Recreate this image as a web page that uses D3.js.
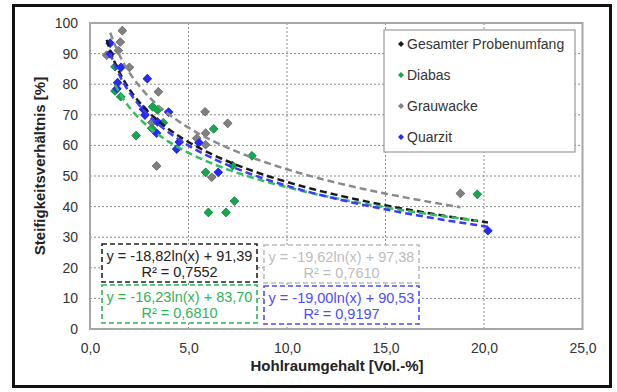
<!DOCTYPE html>
<html>
<head>
<meta charset="utf-8">
<script src="https://cdn.jsdelivr.net/npm/d3@7"></script>
<style>
  body { margin: 0; background: #fff; }
  svg text { font-family: "Liberation Sans", Arial, sans-serif; }
</style>
</head>
<body>
<div id="chart"></div>
<script>
// data: [Hohlraumgehalt, Steifigkeitsverhaeltnis]
const diabas = [[1.27,85.7],[1.27,77.8],[1.56,75.9],[2.34,63.2],[3.18,72.6],[3.43,71.6],[3.13,65.6],[3.72,67.4],
  [6.28,65.4],[8.22,56.6],[5.87,51.2],[6.01,38.1],[6.9,38.1],[7.33,41.8],[7.24,53.4],[19.66,44]]
const grauwacke = [[1.64,97.5],[1.54,93.8],[1.44,91],[0.85,89.5],[2.0,85.5],[3.47,77.5],[5.84,71],[6.99,67.2],
  [5.87,64],[5.42,62.3],[5.87,60.2],[3.38,53.3],[6.18,49.6],[3.15,67.5],[18.8,44.3]]
const quarzit = [[1.02,93.4],[1.02,89.9],[1.57,85.5],[1.40,80.5],[1.37,78.5],[2.91,81.8],[2.71,71.8],[2.79,69.9],
  [3.42,67.7],[3.38,64],[3.99,70.9],[4.53,61.1],[4.40,58.8],[5.53,60.9],[6.51,51.2],[20.2,32.1]]
const gesamt = diabas.concat(grauwacke, quarzit)

const seriesNames = ["Gesamter Probenumfang", "Diabas", "Grauwacke", "Quarzit"]
const seriesData = [gesamt, diabas, grauwacke, quarzit]
// log trend y = a ln(x) + b
const trendA = [-18.82, -16.23, -19.62, -19.00]
const trendB = [91.39, 83.70, 97.38, 90.53]
const trendR2 = ["0,7552", "0,6810", "0,7610", "0,9197"]

const xTicks = [0, 5, 10, 15, 20, 25]
const yTicks = [0, 10, 20, 30, 40, 50, 60, 70, 80, 90, 100]

const pointColor = ["#1a1a1a", "#12a84e", "#808080", "#2727ff"]
const lineColor  = ["#1a1a1a", "#2fbf5c", "#8a8a8a", "#3a3aff"]
const eqColor    = ["#222", "#2fb558", "#bdbdbd", "#4c4cff"]

var width = 617, height = 392
var plot = {left: 90, right: 582.5, top: 23, bottom: 329}

var svg = d3.select("#chart").append("svg")
    .attr("width", width)
    .attr("height", height)

// outer frame
svg.append("rect")
    .attr("x", 13.5).attr("y", 5.5)
    .attr("width", 597).attr("height", 381)
    .attr("fill", "#fff")
    .attr("stroke", "#111")
    .attr("stroke-width", 3)

var x = d3.scaleLinear().domain([0, 25]).range([plot.left, plot.right])
var y = d3.scaleLinear().domain([0, 100]).range([plot.bottom, plot.top])

// grid
svg.append("g")
  .selectAll("line").data(yTicks.slice(1, -1)).join("line")
    .attr("x1", plot.left).attr("x2", plot.right)
    .attr("y1", d => y(d)).attr("y2", d => y(d))
    .attr("stroke", "#8c8c8c").attr("stroke-width", 1).attr("stroke-dasharray", "2,2")
svg.append("g")
  .selectAll("line").data(xTicks.slice(1, -1)).join("line")
    .attr("y1", plot.top).attr("y2", plot.bottom)
    .attr("x1", d => x(d)).attr("x2", d => x(d))
    .attr("stroke", "#8c8c8c").attr("stroke-width", 1).attr("stroke-dasharray", "2,2")

// axes (labels only, frame drawn below)
var xAxis = svg.append("g")
  .attr("transform", "translate(0," + plot.bottom + ")")
  .call(d3.axisBottom(x).tickValues(xTicks).tickSize(0).tickPadding(14)
        .tickFormat(d => d3.format(".1f")(d).replace(".", ",")))
xAxis.select(".domain").remove()
xAxis.selectAll("text").attr("font-size", 14).attr("fill", "#333")
  .attr("font-family", "Liberation Sans, Arial, sans-serif")

var yAxis = svg.append("g")
  .attr("transform", "translate(" + plot.left + ",0)")
  .call(d3.axisLeft(y).tickValues(yTicks).tickSize(0).tickPadding(12))
yAxis.select(".domain").remove()
yAxis.selectAll("text").attr("font-size", 14).attr("fill", "#333")
  .attr("font-family", "Liberation Sans, Arial, sans-serif")

// plot border
svg.append("rect")
    .attr("x", plot.left).attr("y", plot.top)
    .attr("width", plot.right - plot.left).attr("height", plot.bottom - plot.top)
    .attr("fill", "none").attr("stroke", "#a6a6a6").attr("stroke-width", 2)

// axis titles
svg.append("text")
    .attr("x", 337).attr("y", 371)
    .attr("text-anchor", "middle")
    .attr("font-size", 15).attr("font-weight", "bold").attr("fill", "#222")
    .text("Hohlraumgehalt [Vol.-%]")
svg.append("text")
    .attr("transform", "translate(45," + 166 + ")rotate(-90)")
    .attr("text-anchor", "middle")
    .attr("font-size", 15).attr("font-weight", "bold").attr("fill", "#222")
    .text("Steifigkeitsverhältnis [%]")

// points: black (all) first, then grauwacke, diabas, quarzit on top
var diamond = d3.symbol().type(d3.symbolSquare).size(42)
var drawOrder = [0, 2, 1, 3]
drawOrder.forEach(function(i) {
  svg.append("g")
    .selectAll("path").data(seriesData[i]).join("path")
      .attr("d", diamond)
      .attr("transform", d => "translate(" + x(d[0]) + "," + y(d[1]) + ")rotate(45)")
      .attr("fill", pointColor[i])
})

// trend lines
var trendLine = d3.line()
    .x(d => x(d[0]))
    .y(d => y(d[1]))
drawOrder.forEach(function(i) {
  var ext = d3.extent(seriesData[i], d => d[0])
  var pts = d3.range(0, 101).map(function(k) {
    var xv = ext[0] + (ext[1] - ext[0]) * k / 100
    return [xv, trendA[i] * Math.log(xv) + trendB[i]]
  }).filter(d => d[1] <= 100)
  svg.append("path")
    .attr("d", trendLine(pts))
    .attr("fill", "none")
    .attr("stroke", lineColor[i])
    .attr("stroke-width", 2.5)
    .attr("stroke-dasharray", "7,4")
})

// legend
var legend = svg.append("g").attr("transform", "translate(384,30)")
legend.append("rect")
    .attr("width", 191).attr("height", 122)
    .attr("fill", "#fff").attr("stroke", "#9a9a9a").attr("stroke-width", 1.2)
var legendItem = legend.selectAll(".item").data(seriesNames).join("g")
    .attr("transform", (d, i) => "translate(0," + (14 + i * 31) + ")")
legendItem.append("path")
    .attr("d", d3.symbol().type(d3.symbolSquare).size(18))
    .attr("transform", "translate(17,0)rotate(45)")
    .attr("fill", (d, i) => pointColor[i])
legendItem.append("text")
    .attr("x", 23).attr("y", 5)
    .attr("font-size", 14).attr("fill", "#333")
    .text(d => d)

// equation boxes
var boxPos = [[102, 244], [102, 285], [264, 245], [264, 286]]
var boxW = 155, boxH = 38
var fmt = v => v.toFixed(2).replace(".", ",")
seriesNames.forEach(function(name, i) {
  var b = svg.append("g").attr("transform", "translate(" + boxPos[i][0] + "," + boxPos[i][1] + ")")
  b.append("rect")
    .attr("width", boxW).attr("height", boxH)
    .attr("fill", "#fff")
    .attr("stroke", eqColor[i]).attr("stroke-width", 1.6)
    .attr("stroke-dasharray", "5,3")
  b.append("text")
    .attr("x", boxW / 2).attr("y", 17)
    .attr("text-anchor", "middle").attr("font-size", 14.5).attr("fill", eqColor[i])
    .text("y = " + fmt(trendA[i]) + "ln(x) + " + fmt(trendB[i]))
  b.append("text")
    .attr("x", boxW / 2).attr("y", 33)
    .attr("text-anchor", "middle").attr("font-size", 14.5).attr("fill", eqColor[i])
    .text("R² = " + trendR2[i])
})
</script>
</body>
</html>
